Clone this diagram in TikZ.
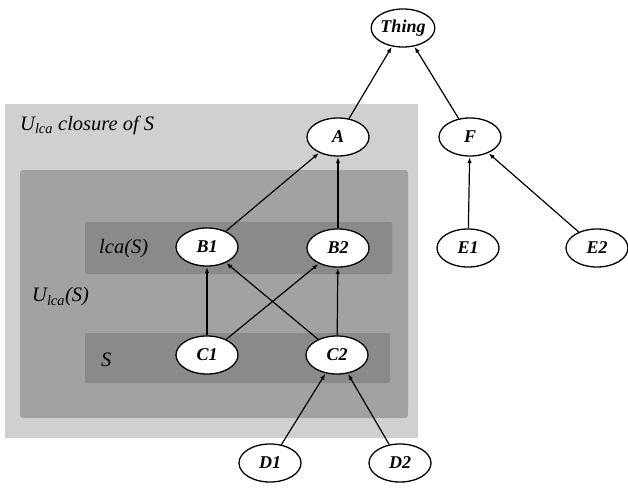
\documentclass[tikz,border=0pt]{standalone}
\usepackage{fontspec}
\setmainfont{Liberation Serif}
\usetikzlibrary{shapes.geometric,arrows.meta}
\definecolor{outerzone}{RGB}{208,208,208}
\definecolor{midzone}{RGB}{162,162,162}
\definecolor{innerzone}{RGB}{138,138,138}
\newcommand{\ulca}{U\textsubscript{lca}}
\begin{document}
\begin{tikzpicture}[x=1pt,y=-1pt,
  concept/.style={ellipse,draw=black,line width=1.3pt,fill=white,
    minimum width=62pt,minimum height=38pt,inner sep=0pt,
    font=\fontsize{18}{20}\selectfont\bfseries\itshape},
  isa/.style={-{Latex[length=6pt,width=4.5pt]},line width=1.2pt,shorten >=0.5pt},
  region/.style={font=\fontsize{20.5}{23}\selectfont\itshape,anchor=west,inner sep=0pt}]
\useasboundingbox (0,0) rectangle (628,489);

% nested regions
\fill[outerzone] (5,104) rectangle (418,438);
\fill[midzone,rounded corners=3pt] (20,170) rectangle (408,418);
\fill[innerzone,rounded corners=2pt] (85,222) rectangle (392,274);
\fill[innerzone,rounded corners=2pt] (85,333) rectangle (390,383);

\node[region] (lclos) at (20,125) {\ulca{} closure of S};
\node[region] (lcas) at (99,249) {lca(S)};
\node[region] (ulcas) at (32,297) {\ulca(S)};
\node[region] (sreg) at (101,360) {S};

% concepts
\node[concept] (thing) at (403,28) {Thing};
\node[concept] (a) at (338,137) {A};
\node[concept] (f) at (470,137) {F};
\node[concept] (b1) at (207,247) {B1};
\node[concept] (b2) at (338,248) {B2};
\node[concept] (e1) at (468,248) {E1};
\node[concept] (e2) at (597,248) {E2};
\node[concept] (c1) at (207,355) {C1};
\node[concept] (c2) at (337,355) {C2};
\node[concept] (d1) at (270,463) {D1};
\node[concept] (d2) at (400,463) {D2};

% subsumption links
\draw[isa] (a) -- (thing);
\draw[isa] (f) -- (thing);
\draw[isa] (e1) -- (f);
\draw[isa] (e2) -- (f);
\draw[isa] (b1) -- (a);
\draw[isa] (b2) -- (a);
\draw[isa] (c1) -- (b1);
\draw[isa] (c1) -- (b2);
\draw[isa] (c2) -- (b1);
\draw[isa] (c2) -- (b2);
\draw[isa] (d1) -- (c2);
\draw[isa] (d2) -- (c2);
\end{tikzpicture}
\end{document}
